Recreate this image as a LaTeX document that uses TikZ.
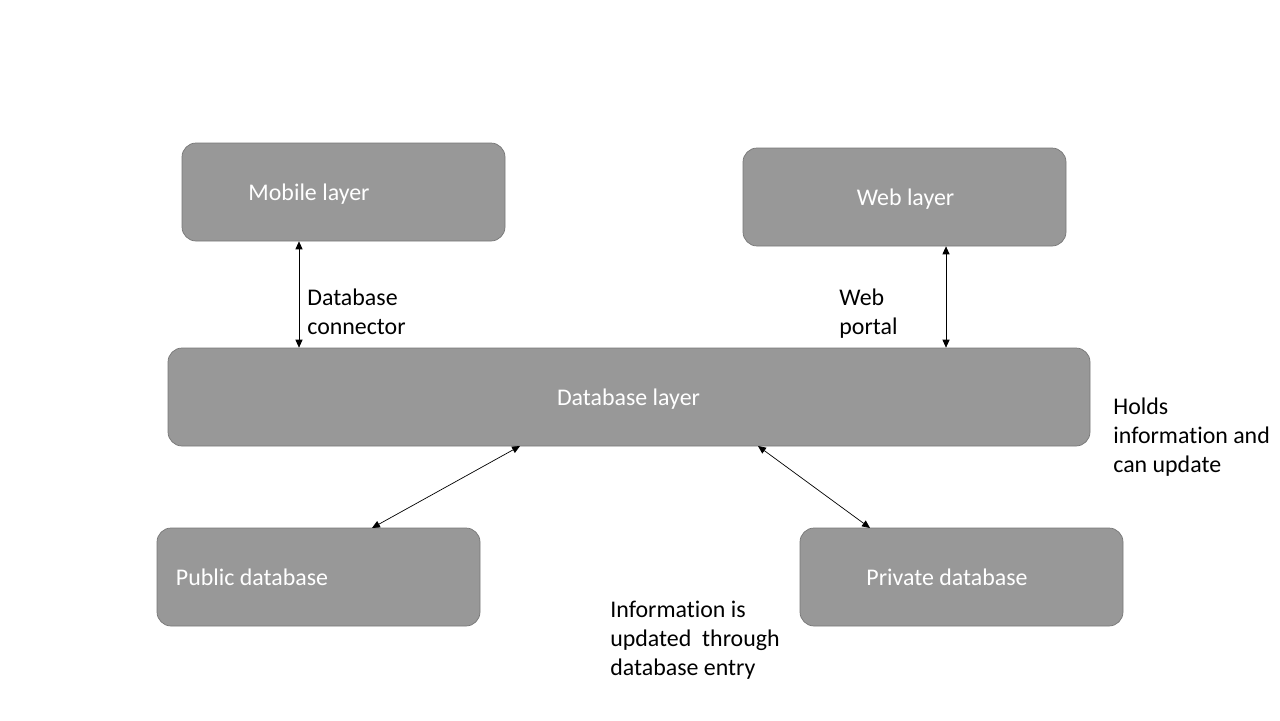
\documentclass[tikz,border=0pt]{standalone}
\usepackage{fontspec}
\setmainfont{Carlito}[Ligatures=NoCommon]
\usetikzlibrary{arrows.meta}
\definecolor{boxgray}{RGB}{152,152,152}
\definecolor{boxline}{RGB}{120,120,120}

\begin{document}
\begin{tikzpicture}[x=0.02cm,y=-0.02cm,
        font=\fontsize{13.6}{16.4}\selectfont,
        layer/.style={draw=boxline,fill=boxgray,rounded corners=8pt,
            minimum height=98*0.02cm,inner sep=0pt},
        layertext/.style={text=white,inner sep=0pt,text depth=0pt},
        note/.style={align=left,anchor=west,inner sep=0pt},
        link/.style={{Triangle[length=4.5pt,width=4pt]}-{Triangle[length=4.5pt,width=4pt]},thin}
    ]
    \useasboundingbox (0,0) rectangle (1280,720);
    % layers
    \node[layer,minimum width=323*0.02cm] (mobile) at (343.5,192) {};
    \node[layer,minimum width=323*0.02cm] (web) at (904.5,197) {};
    \node[layer,minimum width=922*0.02cm] (database) at (629,397) {};
    \node[layer,minimum width=323*0.02cm] (public) at (318.5,577) {};
    \node[layer,minimum width=323*0.02cm] (private) at (961.5,577) {};
    \node[layertext] (mobiletext) at (309,192) {Mobile layer};
    \node[layertext] (webtext) at (905.5,197) {Web layer};
    \node[layertext] (databasetext) at (628.5,397) {Database layer};
    \node[layertext] (publictext) at (252,577) {Public database};
    \node[layertext] (privatetext) at (947,577) {Private database};
    % connectors
    \draw[link] (mobile.south -| 299,0) -- (database.north -| 299,0);
    \draw[link] (web.south -| 946,0) -- (database.north -| 946,0);
    \coordinate (dbleft) at (520,446);
    \coordinate (dbright) at (758,446);
    \coordinate (pubtop) at (372,528);
    \coordinate (privtop) at (870,528);
    \draw[link] (dbleft) -- (pubtop);
    \draw[link] (dbright) -- (privtop);
    % notes
    \node[note] (connnote) at (307,311.5) {Database\\connector};
    \node[note] (portalnote) at (839,313.5) {Web\\portal};
    \node[note] (holdsnote) at (1113,437) {Holds\\information and\\can update};
    \node[note] (infonote) at (610,640) {Information is\\updated\ \ through\\database entry};
\end{tikzpicture}
\end{document}
